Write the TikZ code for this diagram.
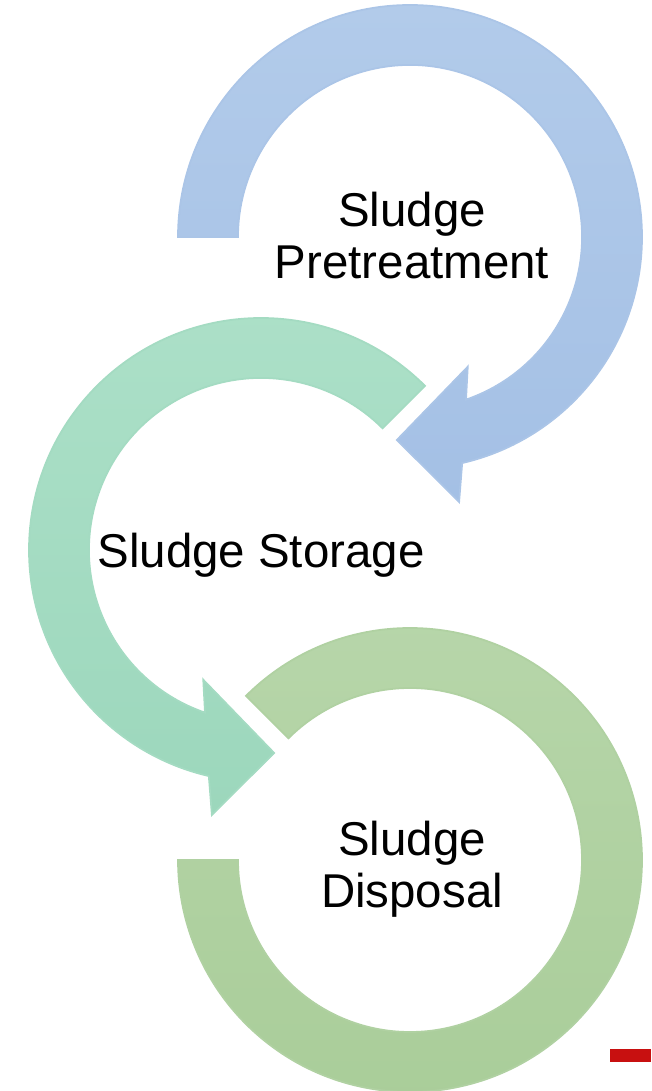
\documentclass[tikz,border=0pt]{standalone}
\usepackage{fontspec}
\setmainfont{Liberation Sans}
\usepackage{tikz}
\definecolor{bluetop}{RGB}{178,203,234}
\definecolor{bluebot}{RGB}{164,192,229}
\definecolor{tealtop}{RGB}{172,224,200}
\definecolor{tealbot}{RGB}{156,215,188}
\definecolor{greentop}{RGB}{183,214,170}
\definecolor{greenbot}{RGB}{169,205,153}
\definecolor{markred}{RGB}{200,16,16}

\begin{document}
\begin{tikzpicture}[
  pretreatring/.style = {top color=bluetop, bottom color=bluebot, draw=bluetop!50!bluebot, line width=0.5pt},
  storagering/.style = {top color=tealtop, bottom color=tealbot, draw=tealtop!50!tealbot, line width=0.5pt},
  disposalring/.style = {top color=greentop, bottom color=greenbot, draw=greentop!50!greenbot, line width=0.5pt},
  ringtext/.style = {font=\fontsize{13.5}{14.8}\selectfont, align=center, inner sep=0pt}
  ]
\useasboundingbox (0,0) rectangle (6.51,10.91);
\coordinate (C1) at (4.10,8.54);
\coordinate (C2) at (2.61,5.41);
\coordinate (C3) at (4.10,2.31);

% first ring, arrow ends at the bottom
\begin{scope}[shift={(C1)}]
\filldraw[pretreatring] (180:2.32) arc[start angle=180, end angle=-77, radius=2.32]
  -- (-79.5:2.695) -- (-93.7:2.034) -- (-66:1.42) -- (-71:1.72)
  arc[start angle=-71, end angle=180, radius=1.72] -- cycle;
\end{scope}

% second ring, the same arrow mirrored
\begin{scope}[shift={(C2)}, xscale=-1]
\filldraw[storagering] (135:2.32) arc[start angle=135, end angle=-77, radius=2.32]
  -- (-79.5:2.695) -- (-93.7:2.034) -- (-66:1.42) -- (-71:1.72)
  arc[start angle=-71, end angle=135, radius=1.72] -- cycle;
\end{scope}

% last ring has no head
\begin{scope}[shift={(C3)}]
\filldraw[disposalring] (135:2.32) arc[start angle=135, end angle=-180, radius=2.32]
  -- (180:1.72) arc[start angle=-180, end angle=135, radius=1.72] -- cycle;
\end{scope}

\node[ringtext] (pretreat) at (4.12,8.553) {Sludge\\Pretreatment};
\node[ringtext] (storage) at (2.61,5.353) {Sludge Storage};
\node[ringtext] (disposal) at (4.12,2.213) {Sludge\\Disposal};

\fill[markred] (6.10,0.29) rectangle (6.51,0.42);
\end{tikzpicture}
\end{document}
